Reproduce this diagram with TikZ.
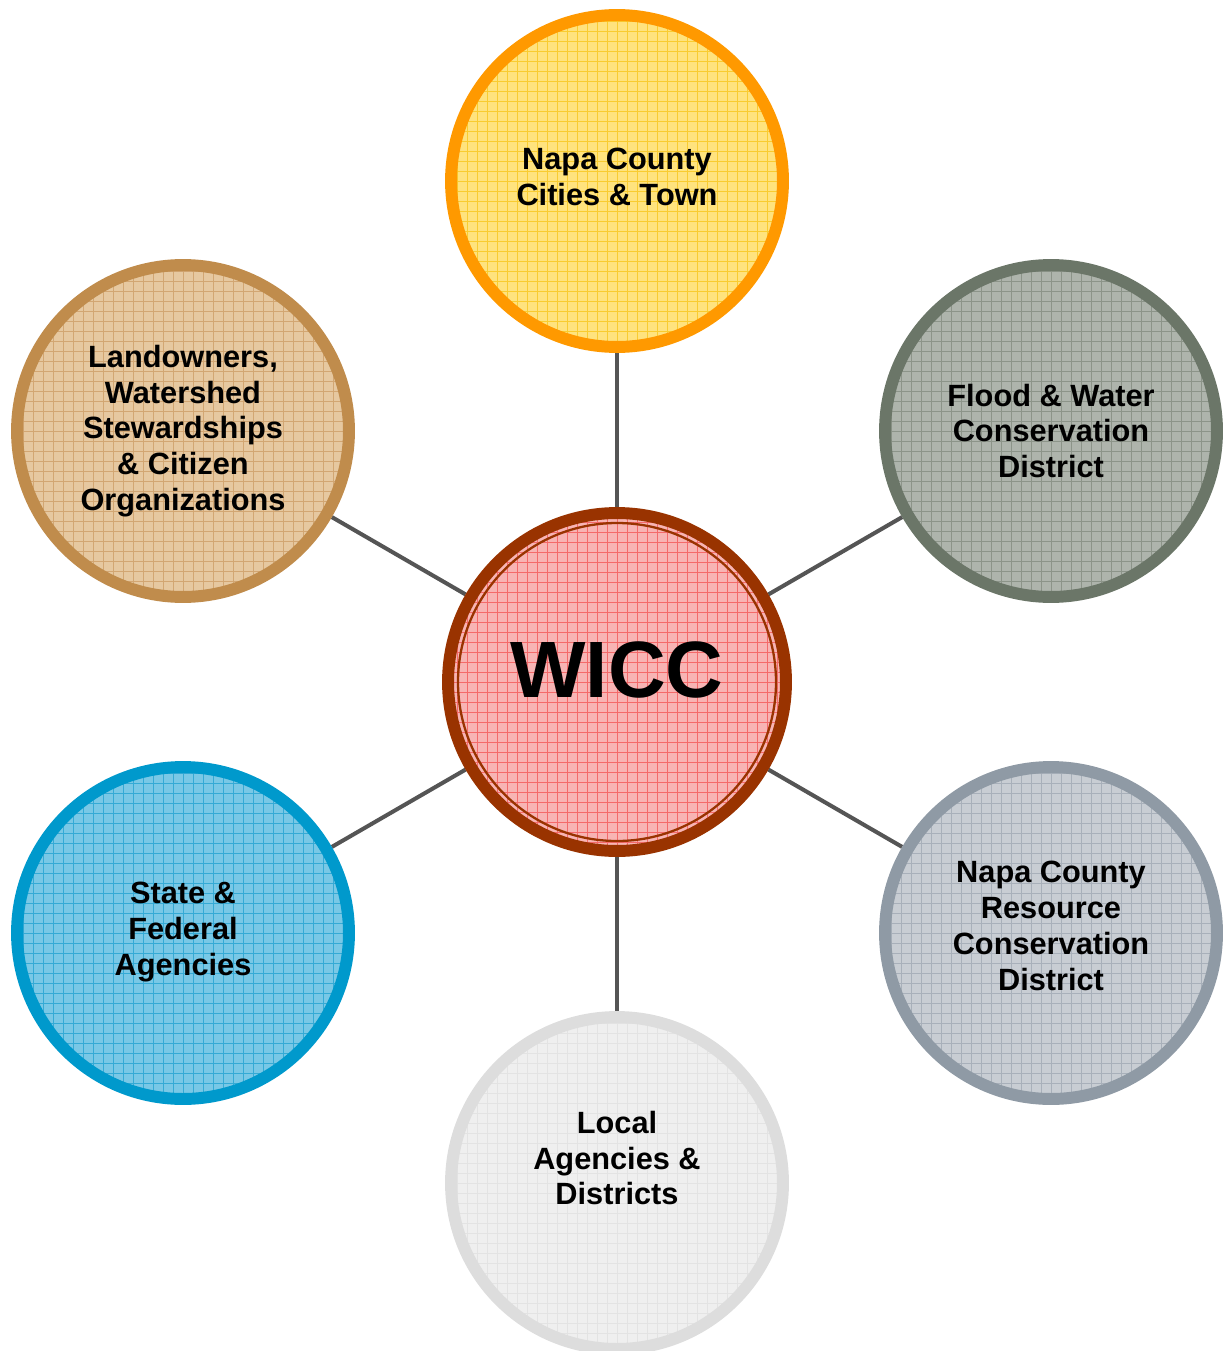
\documentclass[tikz,border=0pt]{standalone}
\usepackage{fontspec}
\setmainfont{Liberation Sans}
\usetikzlibrary{backgrounds}

\definecolor{hubfill}{HTML}{F8B4B4}
\definecolor{hubgrid}{HTML}{F46A6A}
\definecolor{hubring}{HTML}{993300}
\definecolor{cityfill}{HTML}{FFE37E}
\definecolor{citygrid}{HTML}{F9CC30}
\definecolor{cityring}{HTML}{FF9900}
\definecolor{floodfill}{HTML}{AEB4AC}
\definecolor{floodgrid}{HTML}{8C9489}
\definecolor{floodring}{HTML}{6B7668}
\definecolor{rcdfill}{HTML}{C8CDD3}
\definecolor{rcdgrid}{HTML}{A8B0BA}
\definecolor{rcdring}{HTML}{8F9AA5}
\definecolor{localfill}{HTML}{EFEFEF}
\definecolor{localgrid}{HTML}{E3E3E3}
\definecolor{localring}{HTML}{DDDDDD}
\definecolor{statefill}{HTML}{79C8E6}
\definecolor{stategrid}{HTML}{35AAD5}
\definecolor{statering}{HTML}{0099CC}
\definecolor{ownerfill}{HTML}{E6C8A0}
\definecolor{ownergrid}{HTML}{D2A672}
\definecolor{ownerring}{HTML}{C08C4C}
\definecolor{linkgray}{HTML}{555555}

\tikzset{
  member/.style n args={3}{circle, minimum size=6.64cm, inner sep=0pt,
    line width=6.8pt, draw=#3, fill=#1,
    path picture={\draw[#2, line width=0.45pt]
      (path picture bounding box.south west) grid[step=0.2cm]
      (path picture bounding box.north east);}},
  label/.style={align=center, font=\bfseries\fontsize{17.5}{20.4}\selectfont},
  link/.style={linkgray, line width=2.3pt}
}

\begin{document}
\begin{tikzpicture}[x=0.02cm, y=-0.02cm]
\useasboundingbox (0,0) rectangle (1226,1351);
\clip (0,0) rectangle (1226,1351);

% centre
\node[member={hubfill}{hubgrid}{hubring}, minimum size=6.76cm] (wicc) at (617,682) {};
\draw[hubring, line width=1.3pt] (wicc.center) circle (159);
\node[font=\bfseries\fontsize{45.5}{45.5}\selectfont] (wicctext) at (617,670) {WICC};

% members
\node[member={cityfill}{citygrid}{cityring}] (city) at (617,181) {};
\node[member={floodfill}{floodgrid}{floodring}] (flood) at (1051,431) {};
\node[member={rcdfill}{rcdgrid}{rcdring}] (rcd) at (1051,933) {};
\node[member={localfill}{localgrid}{localring}] (local) at (617,1183) {};
\node[member={statefill}{stategrid}{statering}] (state) at (183,933) {};
\node[member={ownerfill}{ownergrid}{ownerring}] (owner) at (183,431) {};

\node[label] (citytext) at (617,177) {Napa County\\Cities \& Town};
\node[label] (floodtext) at (1051,431) {Flood \& Water\\Conservation\\District};
\node[label] (rcdtext) at (1051,926) {Napa County\\Resource\\Conservation\\District};
\node[label] (localtext) at (617,1158) {Local\\Agencies \&\\Districts};
\node[label] (statetext) at (183,932) {State \&\\Federal\\Agencies};
\node[label] (ownertext) at (183,431) {Landowners,\\Watershed\\Stewardships\\\& Citizen\\Organizations};

% spokes
\begin{scope}[on background layer]
\foreach \Member in {city, flood, rcd, local, state, owner}{
    \draw[link] (wicc) -- (\Member);
}
\end{scope}
\end{tikzpicture}
\end{document}
